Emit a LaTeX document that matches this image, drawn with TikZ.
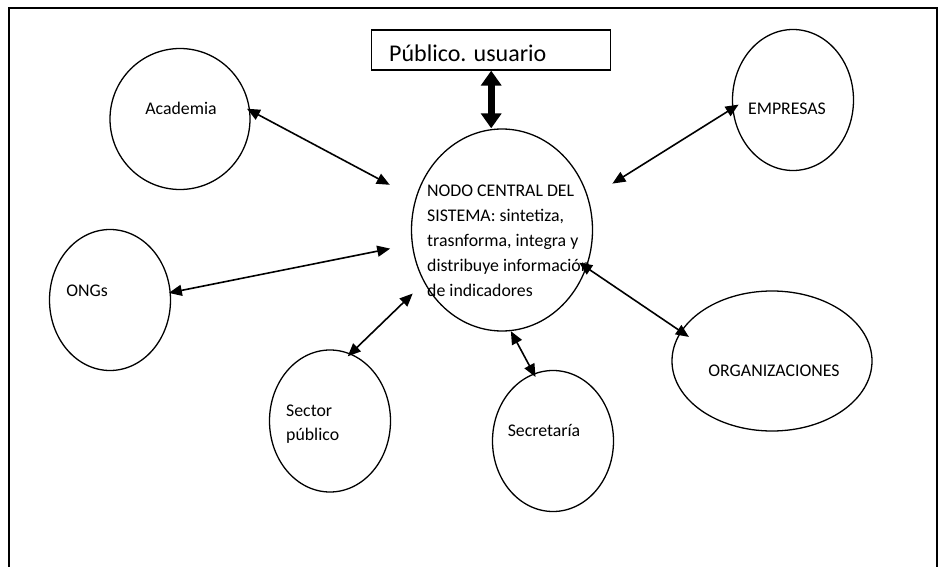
\documentclass[tikz,border=0pt]{standalone}
\usepackage{fontspec}
\setmainfont{Carlito}
\usetikzlibrary{shapes.geometric,arrows.meta}
\begin{document}
\begin{tikzpicture}[x=1pt,y=-1pt,
  ell/.style={draw,ellipse,line width=1.3pt,inner sep=0pt},
  lbl/.style={font=\fontsize{17.8}{25}\selectfont,inner sep=0pt},
  link/.style={line width=1.6pt,{Triangle[length=13pt,width=11pt]}-{Triangle[length=13pt,width=11pt]}},
  biglink/.style={line width=7pt,{Triangle[length=15pt,width=20pt]}-{Triangle[length=15pt,width=20pt]}},
]
\useasboundingbox (0,0) rectangle (945,567);
\draw[line width=1.3pt] (9,567) -- (9,8) -- (937,8) -- (937,567);

% nodes
\node[draw,line width=1.3pt,minimum width=239pt,minimum height=40pt,inner sep=0pt] (pub) at (491.2,50) {};
\node[font=\fontsize{24}{28}\selectfont,inner sep=0pt,anchor=base west] (pubtxt) at (389,62) {Público. usuario};

\node[ell,minimum width=181pt,minimum height=202pt] (cent) at (502,230) {};
\node[lbl,align=left,anchor=base west] (centtxt) at (427,296) {NODO CENTRAL DEL\\SISTEMA: sintetiza,\\trasnforma, integra y\\distribuye información\\de indicadores};

\node[ell,minimum width=140pt,minimum height=141pt] (acad) at (180,119) {};
\node[lbl,anchor=base] (acadtxt) at (181,115) {Academia};

\node[ell,minimum width=121pt,minimum height=141pt] (emp) at (793,100) {};
\node[lbl,anchor=base] (emptxt) at (787,115) {EMPRESAS};

\node[ell,minimum width=121pt,minimum height=141pt] (ong) at (110,300) {};
\node[lbl,anchor=base] (ongtxt) at (87,296) {ONGs};

\node[ell,minimum width=200pt,minimum height=140pt] (org) at (772,361) {};
\node[lbl,anchor=base] (orgtxt) at (774,376) {ORGANIZACIONES};

\node[ell,minimum width=121pt,minimum height=142pt] (sec) at (330,421) {};
\node[lbl,align=left,anchor=base west,font=\fontsize{17.8}{24}\selectfont] (sectxt) at (286,440) {Sector\\público};

\node[ell,minimum width=121pt,minimum height=141pt] (secr) at (553,441) {};
\node[lbl,anchor=base] (secrtxt) at (544,436) {Secretaría};

% connectors
\draw[biglink] (pub.south) -- (pub.south |- cent.north);
\draw[link,shorten <=-3.6pt,shorten >=29pt] (acad.7) -- (cent.160.5);
\draw[link,shorten <=-7.4pt,shorten >=28pt] (emp.188.5) -- (cent.20.1);
\draw[link,shorten <=-2pt,shorten >=22pt] (ong.7.4) -- (cent.189.7);
\draw[link,shorten <=-4pt,shorten >=15.7pt] (sec.73.5) -- (cent.214.1);
\draw[link,shorten >=-4pt] (cent.275.7) -- (secr.106.7);
\draw[link,shorten <=-9pt,shorten >=-10pt] (cent.336) -- (org.162.9);
\end{tikzpicture}
\end{document}
